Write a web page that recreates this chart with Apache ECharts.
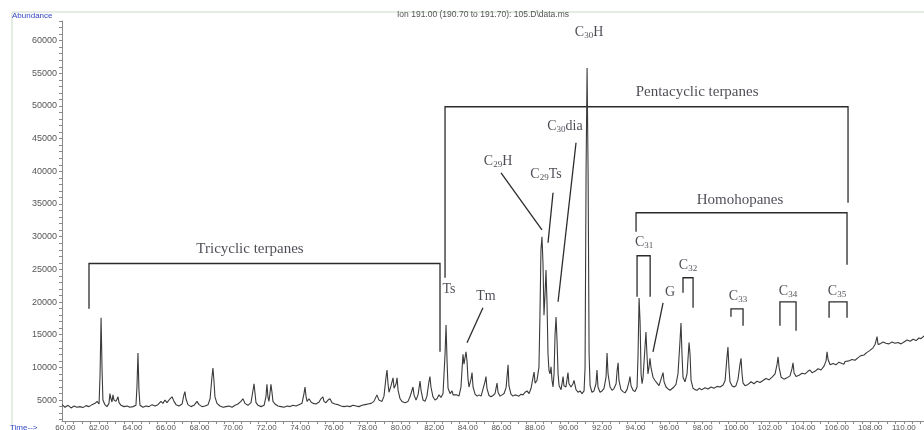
<!DOCTYPE html>
<html>
<head>
<meta charset="utf-8">
<script src="https://cdn.jsdelivr.net/npm/echarts@6/dist/echarts.min.js"></script>
<style>
html, body { margin: 0; padding: 0; background: #fff; }
#container { width: 924px; height: 430px; }
</style>
</head>
<body>
<div id="container"></div>
<script>
// m/z 191 trace: [retention time (min), abundance]
var tricyclicTrace = [
    [59.80,4300],[59.98,3900],[60.16,4200],[60.34,3800],[60.52,4100],[60.69,3900],[60.87,4000],[61.05,3850],[61.23,4150],[61.41,4000],
    [61.59,4300],[61.77,4500],[61.89,4800],[62.01,4400],[62.07,9000],[62.13,17600],[62.19,9500],[62.24,5000],[62.36,4300],[62.48,4000],
    [62.60,4500],[62.66,6000],[62.72,5200],[62.78,4700],[62.84,5800],[62.90,5000],[63.02,4800],[63.14,5500],[63.20,4600],[63.32,4200],
    [63.50,4000],[63.68,4100],[63.85,3900],[64.03,4000],[64.21,4200],[64.27,7000],[64.33,12200],[64.39,6500],[64.45,4200],[64.63,3900],
    [64.81,4100],[64.99,4000],[65.17,4300],[65.35,4100],[65.52,4300],[65.70,4800],[65.82,4500],[65.94,5000],[66.06,4600],[66.24,5200],
    [66.36,5500],[66.48,4800],[66.60,4300],[66.78,4100],[66.96,4400],[67.07,5800],[67.13,6300],[67.19,5200],[67.31,4300],[67.49,4000],
    [67.67,4200],[67.85,4800],[67.97,4300],[68.15,4000],[68.33,4100],[68.51,4300],[68.63,5200],[68.74,8500],[68.80,9900],[68.86,8000],
    [68.92,5500],[69.04,4500],[69.22,4100],[69.40,3900],[69.58,4000],[69.76,4100],[69.94,3900],[70.12,4200],[70.29,4400],[70.47,4800],
    [70.59,5200],[70.71,4500],[70.89,4200],[71.07,4600],[71.19,6500],[71.25,7500],[71.31,6000],[71.37,4600],[71.49,4200],[71.67,4000],
    [71.85,4200],[71.96,5500],[72.02,7400],[72.08,5500],[72.14,4800],[72.20,6000],[72.26,7400],[72.32,6200],[72.38,4800],[72.50,4400],
    [72.68,4100],[72.86,4000],[73.04,3900],[73.22,4100],[73.40,4000],[73.57,4200],[73.75,4100],[73.93,4300],[74.11,4500],[74.23,6000],
    [74.29,7000],[74.35,5600],[74.41,4800],[74.53,5200],[74.65,4700],[74.77,4500],[74.95,4400],[75.13,4700],[75.24,5200],[75.36,5500],
    [75.42,4800],[75.54,4600],[75.66,5000],[75.78,5200],[75.90,4600],[76.08,4400],[76.26,4300],[76.44,4100],[76.62,4000],[76.79,4100],
    [76.97,4000],[77.15,4200],[77.33,4100],[77.51,4000],[77.69,4200],[77.87,4300],[78.05,4400],[78.23,4500],[78.40,4800],[78.58,5800],
    [78.70,5000],[78.88,4800],[79.00,5600],[79.12,8500],[79.18,9600],[79.24,7500],[79.30,6200],[79.42,7200],[79.54,8400],[79.60,6800],
    [79.72,7500],[79.78,8400],[79.84,6500],[79.96,5200],[80.07,4800],[80.25,4600],[80.43,4800],[80.55,5500],[80.67,6500],[80.73,7000],
    [80.79,5800],[80.91,5000],[81.03,5800],[81.15,7900],[81.21,6500],[81.33,5000],[81.45,4800],[81.56,5600],[81.68,7800],[81.74,8600],
    [81.80,7000],[81.92,5500],[82.04,5000],[82.16,5200],[82.28,5800],[82.40,5400],[82.52,6000]
];
var hopaneTrace = [
    [82.64,12000],[82.70,16500],[82.76,11000],[82.82,6800],[82.94,6000],[83.06,6400],[83.12,5800],[83.23,5600],[83.35,5800],[83.47,5600],
    [83.59,7000],[83.71,12000],[83.77,10500],[83.89,12400],[83.95,11000],[84.01,8200],[84.07,7000],[84.19,8200],[84.25,9200],[84.31,7000],
    [84.43,5900],[84.55,5600],[84.67,5800],[84.79,5600],[84.90,5800],[85.02,7800],[85.08,8600],[85.14,6800],[85.26,5700],[85.38,5500],
    [85.50,5700],[85.62,6000],[85.74,7600],[85.80,6200],[85.92,5600],[86.04,5800],[86.16,6000],[86.28,6900],[86.40,10400],[86.45,7200],
    [86.57,5900],[86.69,5600],[86.81,5800],[86.93,5700],[87.05,5600],[87.17,5900],[87.29,5800],[87.41,6200],[87.53,6400],[87.65,6000],
    [87.77,6800],[87.89,8500],[87.95,9300],[88.01,7600],[88.12,8000],[88.18,9000],[88.24,10000],[88.30,18000],[88.36,28000],[88.42,30000],
    [88.48,26000],[88.54,18000],[88.60,21000],[88.66,24900],[88.72,20000],[88.78,12000],[88.84,9500],[88.90,9000],[88.96,10100],[89.02,8000],
    [89.08,7000],[89.14,9000],[89.20,15000],[89.26,17700],[89.32,14000],[89.38,9000],[89.44,7200],[89.56,6600],[89.68,8600],[89.73,7200],
    [89.85,7000],[89.97,9200],[90.03,7500],[90.15,7000],[90.27,7500],[90.33,8000],[90.45,6600],[90.57,6200],[90.69,6400],[90.81,6000],
    [90.93,6400],[90.99,10000],[91.05,40000],[91.11,55800],[91.17,40000],[91.23,12000],[91.29,7200],[91.40,6200],[91.52,6400],[91.64,7500],
    [91.70,9600],[91.76,7000],[91.88,6200],[92.00,6400],[92.12,6800],[92.24,8500],[92.30,12200],[92.36,9000],[92.48,7000],[92.60,6500],
    [92.72,6800],[92.84,7500],[92.90,9500],[92.96,10700],[93.01,8000],[93.13,6600],[93.25,6300],[93.37,6100],[93.49,6600],[93.61,7800],
    [93.67,8600],[93.73,7200],[93.85,6500],[93.97,6300]
];
var homohopaneTrace = [
    [94.09,7000],[94.15,12000],[94.21,20600],[94.27,17000],[94.33,9000],[94.39,7500],[94.45,8500],[94.56,13000],[94.62,15400],[94.68,12000],
    [94.74,9000],[94.80,10000],[94.86,11400],[94.92,10000],[95.04,8500],[95.16,8000],[95.28,7600],[95.40,7200],[95.52,8200],[95.64,9200],
    [95.70,7800],[95.82,7000],[95.94,6700],[96.06,6500],[96.17,6800],[96.29,7000],[96.41,7400],[96.53,9000],[96.65,14000],[96.71,16800],
    [96.77,12000],[96.83,8500],[96.95,7800],[97.07,9000],[97.19,13800],[97.25,12000],[97.31,8000],[97.43,6800],[97.55,6600],[97.67,6500],
    [97.79,6800],[97.96,6600],[98.14,6900],[98.32,6700],[98.50,7000],[98.68,6800],[98.86,7100],[99.04,7000],[99.22,7300],[99.34,8000],
    [99.45,11500],[99.51,13100],[99.57,10000],[99.63,7800],[99.75,7200],[99.87,7000],[99.99,7200],[100.11,8200],[100.23,10500],[100.29,11400],
    [100.35,9000],[100.41,7600],[100.53,7200],[100.71,7400],[100.89,7800],[101.06,7500],[101.24,7900],[101.42,7700],[101.60,8000],[101.78,8300],
    [101.96,8100],[102.14,8500],[102.32,9000],[102.44,10500],[102.50,11600],[102.56,10000],[102.68,8500],[102.85,8200],[103.03,8400],[103.21,8700],
    [103.33,9800],[103.39,10700],[103.45,9200],[103.57,8600],[103.75,8800],[103.93,9100],[104.11,9000],[104.28,9400],[104.40,9600],[104.52,9200],
    [104.70,9400],[104.88,9800],[105.06,9600],[105.24,10200],[105.36,11000],[105.42,12400],[105.48,11200],[105.60,10400],[105.78,10600],[105.95,10400],
    [106.13,10800],[106.31,10600],[106.43,10500],[106.49,10900],[106.55,10600],[106.73,11000],[106.91,11200],[107.09,11100],[107.27,11500],[107.44,11800],
    [107.62,11900],[107.80,12300],[107.98,12600],[108.16,13000],[108.28,13500],[108.40,14700],[108.46,13500],[108.58,13600],[108.76,13900],[108.93,13700],
    [109.11,13600],[109.29,13900],[109.47,13700],[109.65,13800],[109.83,13600],[110.01,13900],[110.19,14200],[110.37,14000],[110.55,14300],[110.73,14100],
    [110.90,14500],[111.02,14400],[111.20,14800]
];

var xTickLabels = [60,62,64,66,68,70,72,74,76,78,80,82,84,86,88,90,92,94,96,98,100,102,104,106,108,110];
var yTickLabels = [5000,10000,15000,20000,25000,30000,35000,40000,45000,50000,55000,60000];

// group names and where they sit (time, abundance)
var groupNames = ['Tricyclic terpanes', 'Pentacyclic terpanes', 'Homohopanes'];
var groupLabelAt = [[71.01, 28150], [97.67, 52170], [100.23, 35650]];
var groupBrackets = [
    [[61.41, 18970], [61.41, 25900], [82.34, 25900], [82.34, 12390]],
    [[82.64, 23700], [82.64, 49880], [106.67, 49880], [106.67, 35190]],
    [[94.03, 30750], [94.03, 33660], [106.61, 33660], [106.61, 25700]]
];

// peak names ({s|..} = subscript) and label anchors
var peakNames = ['Ts', 'Tm', 'C{s|29}H', 'C{s|29}Ts', 'C{s|30}dia', 'C{s|30}H', 'G',
                 'C{s|31}', 'C{s|32}', 'C{s|33}', 'C{s|34}', 'C{s|35}'];
var peakLabelAt = [[82.88, 21880], [85.08, 20810], [85.80, 41460], [88.66, 39470], [89.79, 46820], [91.23, 61200],
                   [96.06, 21420], [94.51, 29070], [97.13, 25550], [100.11, 20810], [103.09, 21570], [106.01, 21570]];
var peakMarks = [
    [[84.90, 19130], [83.95, 13770]],
    [[85.98, 39780], [88.42, 31060]],
    [[89.08, 36720], [88.78, 29070]],
    [[90.45, 44370], [89.38, 20040]],
    [[95.64, 19890], [95.04, 12390]],
    [[94.09, 20810], [94.09, 27080], [94.87, 27080], [94.87, 20810]],
    [[96.83, 21420], [96.83, 23720], [97.43, 23720], [97.43, 19130]],
    [[99.69, 17750], [99.69, 18970], [100.41, 18970], [100.41, 16370]],
    [[102.61, 16370], [102.61, 20040], [103.57, 20040], [103.57, 15610]],
    [[105.54, 17600], [105.54, 20040], [106.61, 20040], [106.61, 17600]]
];

(function () {
    var dom = document.getElementById('container');
    var myChart = echarts.init(dom, null, { renderer: 'canvas' });

    var trace = tricyclicTrace.concat(hopaneTrace, homohopaneTrace);

    var xTicks = [];
    for (var t = 60; t <= 111; t += 0.5) xTicks.push(t);
    var yTicks = [];
    for (var a = 2000; a <= 63000; a += 1000) yTicks.push(a);

    var segs = [];
    groupBrackets.concat(peakMarks).forEach(function (c) { segs.push({ coords: c }); });

    var texts = [];
    groupNames.forEach(function (n, i) {
        texts.push({ value: groupLabelAt[i], text: n, label: { fontSize: 15 } });
    });
    peakNames.forEach(function (n, i) {
        texts.push({ value: peakLabelAt[i], text: n });
    });

    var serif = 'Liberation Serif';
    var sans = 'Liberation Sans';

    var option = {
        animation: false,
        backgroundColor: '#fff',
        grid: { left: 62, right: 0, top: 21, bottom: 9, containLabel: false, outerBoundsMode: 'none' },
        xAxis: {
            type: 'value',
            min: 59.8,
            max: 111.2,
            axisLine: { lineStyle: { color: '#8a8a8a', width: 1 } },
            axisTick: { show: true, customValues: xTicks, length: 3, lineStyle: { color: '#8a8a8a' } },
            axisLabel: {
                customValues: xTickLabels,
                formatter: function (v) { return v.toFixed(2); },
                fontSize: 8, color: '#555', margin: 3, fontFamily: sans
            },
            splitLine: { show: false }
        },
        yAxis: {
            type: 'value',
            min: 1800,
            max: 63000,
            axisLine: { show: true, lineStyle: { color: '#8a8a8a', width: 1 } },
            axisTick: { show: true, customValues: yTicks, length: 3, lineStyle: { color: '#8a8a8a' } },
            axisLabel: {
                customValues: yTickLabels,
                formatter: function (v) { return String(v); },
                fontSize: 9, color: '#555', margin: 5, fontFamily: sans
            },
            splitLine: { show: false }
        },
        series: [
            {
                type: 'line',
                data: trace,
                showSymbol: false,
                symbol: 'none',
                lineStyle: { color: '#3a3a3a', width: 1.1 },
                z: 3
            },
            {
                type: 'lines',
                coordinateSystem: 'cartesian2d',
                polyline: true,
                silent: true,
                data: segs,
                lineStyle: { color: '#2b2b2b', width: 1.3, opacity: 1 },
                z: 2
            },
            {
                type: 'scatter',
                symbolSize: 0,
                silent: true,
                data: texts,
                itemStyle: { color: 'transparent' },
                label: {
                    show: true,
                    position: 'inside',
                    formatter: function (p) { return p.data.text; },
                    color: '#1e1e28',
                    fontFamily: serif,
                    fontSize: 14,
                    rich: {
                        s: { fontSize: 9, fontFamily: serif, color: '#1e1e28', padding: [6, 0, 0, 0] }
                    }
                },
                z: 4
            }
        ],
        graphic: [
            { type: 'line', shape: { x1: 12, y1: 12, x2: 924, y2: 12 }, style: { stroke: '#dbe6db', lineWidth: 1.5 }, silent: true },
            { type: 'line', shape: { x1: 12, y1: 12, x2: 12, y2: 430 }, style: { stroke: '#dbe6db', lineWidth: 1.5 }, silent: true },
            { type: 'text', left: 12, top: 12, style: { text: 'Abundance', fill: '#3347c4', font: '8px ' + sans } },
            { type: 'text', left: 397, top: 10, style: { text: 'Ion 191.00 (190.70 to 191.70): 105.D\\data.ms', fill: '#555', font: '8.5px ' + sans } },
            { type: 'text', left: 10, top: 424, style: { text: 'Time-->', fill: '#3347c4', font: '8px ' + sans } }
        ]
    };

    myChart.setOption(option, true);
    window.onresize = myChart.resize;
}());
</script>
</body>
</html>
